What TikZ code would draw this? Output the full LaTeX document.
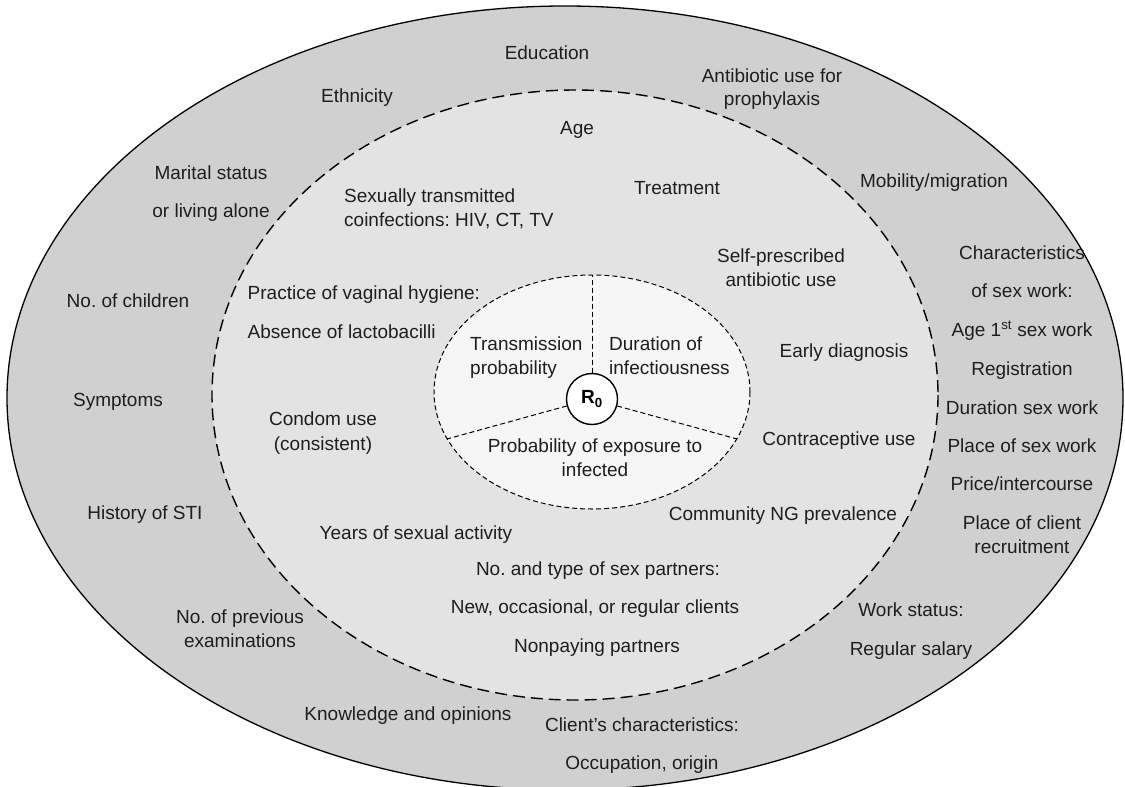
\documentclass[tikz,border=0pt]{standalone}
\usepackage{fontspec}
\setmainfont{Liberation Sans}
\frenchspacing
\begin{document}
\begin{tikzpicture}[x=1pt,y=-1pt]
\definecolor{outerfill}{RGB}{208,208,208}
\definecolor{midfill}{RGB}{227,227,227}
\definecolor{innerfill}{RGB}{246,246,246}
\definecolor{textc}{RGB}{30,30,30}
\tikzset{
  lbl/.style={font=\fontsize{19}{23.5}\selectfont, text=textc, inner sep=0pt, anchor=base},
  lbll/.style={lbl, anchor=base west},
  outerring/.style={draw=black, line width=1.3pt, fill=outerfill},
  midring/.style={draw=black, line width=1.4pt, dash pattern=on 12pt off 6pt, fill=midfill},
  innerring/.style={draw=black, line width=1.0pt, dash pattern=on 5pt off 3pt, fill=innerfill},
  divider/.style={draw=black, line width=1.0pt, dash pattern=on 5pt off 3pt},
  rzero/.style={circle, draw=black, line width=1.4pt, fill=white, minimum size=51pt, inner sep=0pt, font=\fontsize{19}{23.5}\selectfont\bfseries}
}
\useasboundingbox (0,0) rectangle (1125,787);
% rings
\path[outerring] (565,398) ellipse [x radius=558, y radius=392];
\path[midring] (575,395) ellipse [x radius=363, y radius=305];
\path[innerring] (592,392) ellipse [x radius=158, y radius=117];
% centre
\node[rzero] (r0) at (592,399) {R\textsubscript{0}};
\coordinate (itop) at (592,275);
\coordinate (ileft) at (447,439);
\coordinate (iright) at (737,439);
\draw[divider] (r0) -- (itop);
\draw[divider] (r0) -- (ileft);
\draw[divider] (r0) -- (iright);
% inner labels
\node[lbll] (trans1) at (470,350) {Transmission};
\node[lbll] (trans2) at (470,374) {probability};
\node[lbll] (dur1) at (609,350) {Duration of};
\node[lbll] (dur2) at (609,374) {infectiousness};
\node[lbl] (prob1) at (595,452) {Probability of exposure to};
\node[lbl] (prob2) at (595,476) {infected};
% middle ring labels
\node[lbl] (age) at (577,134) {Age};
\node[lbll] (coinf1) at (344,202) {Sexually transmitted};
\node[lbll] (coinf2) at (344,226) {coinfections: HIV, CT, TV};
\node[lbl] (treat) at (677,194) {Treatment};
\node[lbl] (self1) at (781,262) {Self-prescribed};
\node[lbl] (self2) at (781,286) {antibiotic use};
\node[lbll] (prac) at (247.5,299) {Practice of vaginal hygiene:};
\node[lbll] (absl) at (247.5,338) {Absence of lactobacilli};
\node[lbl] (early) at (844,357) {Early diagnosis};
\node[lbl] (condom1) at (323,425) {Condom use};
\node[lbl] (condom2) at (323,450) {(consistent)};
\node[lbl] (contra) at (839,445) {Contraceptive use};
\node[lbl] (comm) at (783,520) {Community NG prevalence};
\node[lbl] (years) at (416,539) {Years of sexual activity};
\node[lbl] (ntype) at (598,575) {No. and type of sex partners:};
\node[lbl] (newc) at (595,613) {New, occasional, or regular clients};
\node[lbl] (nonpay) at (597,652) {Nonpaying partners};
% outer ring labels
\node[lbl] (edu) at (547,59) {Education};
\node[lbl] (eth) at (357,102) {Ethnicity};
\node[lbl] (abx1) at (772,82) {Antibiotic use for};
\node[lbl] (abx2) at (772,105) {prophylaxis};
\node[lbl] (mar1) at (211,179) {Marital status};
\node[lbl] (mar2) at (211,217) {or living alone};
\node[lbl] (mob) at (934,187) {Mobility/migration};
\node[lbl] (chi) at (128,307) {No. of children};
\node[lbl] (sym) at (118,406) {Symptoms};
\node[lbl] (hsti) at (145,519) {History of STI};
\node[lbl] (prev1) at (240,623) {No. of previous};
\node[lbl] (prev2) at (240,647) {examinations};
\node[lbl] (know) at (408,720) {Knowledge and opinions};
\node[lbl] (cli1) at (642,731) {Client’s characteristics:};
\node[lbl] (cli2) at (642,769) {Occupation, origin};
\node[lbl] (work1) at (911,616) {Work status:};
\node[lbl] (work2) at (911,655) {Regular salary};
\node[lbl] (sw1) at (1022,259) {Characteristics};
\node[lbl] (sw2) at (1022,297) {of sex work:};
\node[lbl] (sw3) at (1022,336) {Age 1\textsuperscript{st} sex work};
\node[lbl] (sw4) at (1022,375) {Registration};
\node[lbl] (sw5) at (1022,414) {Duration sex work};
\node[lbl] (sw6) at (1022,452) {Place of sex work};
\node[lbl] (sw7) at (1022,490) {Price/intercourse};
\node[lbl] (sw8) at (1022,529) {Place of client};
\node[lbl] (sw9) at (1022,553) {recruitment};
\end{tikzpicture}
\end{document}
